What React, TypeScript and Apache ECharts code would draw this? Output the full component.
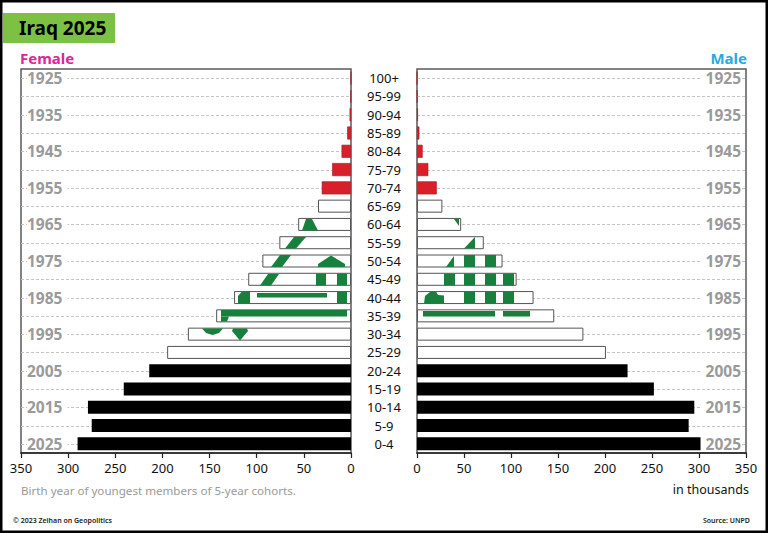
import React, { useEffect, useRef } from "react";
import * as echarts from "echarts";

const ages = ["0-4","5-9","10-14","15-19","20-24","25-29","30-34","35-39","40-44","45-49","50-54","55-59","60-64","65-69","70-74","75-79","80-84","85-89","90-94","95-99","100+"];
const femaleValues = [290,275,279,241,214,195,173,143,124,109,94,76,56,35,31,20,10,4,1.5,0.3,0.05];
const maleValues = [304,289,295,252,224,201,177,146,124,106,91,71,47,27,21,12,6,2.5,1,0.2,0.05];
const birthYearLabels = ["2025","","2015","","2005","","1995","","1985","","1975","","1965","","1955","","1945","","1935","","1925"];
const cohortGroup = ["k","k","k","k","k","w","w","w","w","w","w","w","w","w","r","r","r","r","r","r","r"];
const xTicks = [0, 50, 100, 150, 200, 250, 300, 350];

const FONT = "'Noto Sans', 'Open Sans', sans-serif";

const groupStyle: Record<string, any> = {
  k: { color: "#000000", borderColor: "#000000", borderWidth: 0 },
  w: { color: "#ffffff", borderColor: "#555555", borderWidth: 1 },
  r: { color: "#d7202a", borderColor: "#a51a20", borderWidth: 0.6 },
};

// Decorative flag-emblem fragments seen through the white bars (pure decoration, not data)
const FLAG_GREEN = "#17803d";
const flagPieces: number[][][] = [
  [[306,219],[312,219],[318,230.5],[302,230.5]],
  [[294,237],[306,237],[296,248.5],[285,248.5]],
  [[280,255],[291,255],[282,267],[271,267]],
  [[331,255.5],[345,264],[345,267],[318,267],[318,264]],
  [[268,274],[279,274],[271,285.5],[260,285.5]],
  [[316,273.5],[326,273.5],[326,285.5],[316,285.5]],
  [[337,273.5],[347,273.5],[347,285.5],[337,285.5]],
  [[242,291.5],[250,291.5],[250,303.5],[238,303.5],[238,296]],
  [[257,293],[327,293],[327,297.5],[257,297.5]],
  [[337,291.5],[347,291.5],[347,303.5],[337,303.5]],
  [[221,310],[347,310],[347,316.5],[221,316.5]],
  [[221,316.5],[229,316.5],[227,321.5],[221,321.5]],
  [[202,328.5],[223,328.5],[219,333],[212.5,335],[206,333]],
  [[233,328.5],[247,328.5],[248,331],[240,340.5],[232,331]],
  [[454,219],[459,219],[459,226]],
  [[475,237],[475,248.5],[464,248.5]],
  [[454,256],[454,267],[446,267]],
  [[464,255],[475,255],[475,267],[464,267]],
  [[485,255],[496,255],[496,267],[485,267]],
  [[444,273.5],[455,273.5],[455,285.5],[444,285.5]],
  [[464,273.5],[475,273.5],[475,285.5],[464,285.5]],
  [[485,273.5],[496,273.5],[496,285.5],[485,285.5]],
  [[503,273.5],[514,273.5],[514,285.5],[503,285.5]],
  [[424,303.5],[425,296],[430,292],[436,291.5],[438,295],[444,295.5],[444,303.5]],
  [[464,291.5],[475,291.5],[475,303.5],[464,303.5]],
  [[485,291.5],[496,291.5],[496,303.5],[485,303.5]],
  [[503,291.5],[514,291.5],[514,303.5],[503,303.5]],
  [[423,311],[495,311],[495,316.5],[423,316.5]],
  [[503,311],[530,311],[530,316.5],[503,316.5]],
];

function barData(values: number[]) {
  return values.map((v, i) => ({ value: v, itemStyle: groupStyle[cohortGroup[i]] }));
}

const noSplit = { splitLine: { show: false }, splitArea: { show: false }, minorSplitLine: { show: false } };

function gridLineSeries(xIdx: number, yIdx: number) {
  return {
    type: "custom",
    xAxisIndex: xIdx,
    yAxisIndex: yIdx,
    z: 1,
    silent: true,
    data: ages.map((a, i) => [0, i]),
    renderItem: (params: any, api: any) => {
      const cs = params.coordSys;
      const y = Math.round(api.coord([0, api.value(1)])[1]) + 0.5;
      return {
        type: "line",
        shape: { x1: cs.x, y1: y, x2: cs.x + cs.width, y2: y },
        style: { stroke: "#c4c4c4", lineWidth: 1, lineDash: [3, 2] },
      };
    },
  };
}

export default function App() {
  const ref = useRef<HTMLDivElement>(null);
  useEffect(() => {
    document.body.style.margin = "0";
    const chart = echarts.init(ref.current!, null, { renderer: "svg" });
    const xAxisBase = {
      type: "value",
      min: 0,
      max: 350,
      interval: 50,
      ...noSplit,
      axisLine: { show: true, lineStyle: { color: "#222", width: 1.5 } },
      axisTick: { show: true, length: 5, lineStyle: { color: "#222", width: 1.2 } },
      axisLabel: { fontSize: 13, color: "#111", margin: 8, fontFamily: FONT, formatter: (v: number) => (xTicks.includes(v) ? String(v) : "") },
    };
    const yearAxisLabel = {
      inside: true,
      fontSize: 15.5,
      fontWeight: "bold",
      color: "#9a9a9a",
      fontFamily: FONT,
      backgroundColor: "#ffffff",
      formatter: (_v: string, i: number) => birthYearLabels[i],
    };
    const flagGraphics = flagPieces.map((pts) => ({
      type: "polygon",
      z: 100,
      silent: true,
      shape: { points: pts },
      style: { fill: FLAG_GREEN },
    }));
    chart.setOption({
      animation: false,
      grid: [
        { left: 21, top: 69, width: 330, height: 384, show: true, borderColor: "#5a5a5a", borderWidth: 1.5 },
        { left: 417, top: 69, width: 329, height: 384, show: true, borderColor: "#5a5a5a", borderWidth: 1.5 },
      ],
      xAxis: [
        { ...xAxisBase, gridIndex: 0, inverse: true },
        { ...xAxisBase, gridIndex: 1 },
      ],
      yAxis: [
        {
          type: "category", gridIndex: 0, data: ages, position: "left", z: 10, ...noSplit,
          axisLine: { show: false }, axisTick: { show: false },
          axisLabel: { ...yearAxisLabel, margin: 6, padding: [0, 5, 0, 0] },
        },
        {
          type: "category", gridIndex: 0, data: ages, position: "right", ...noSplit,
          axisLine: { show: false }, axisTick: { show: false },
          axisLabel: { align: "center", margin: 33, fontSize: 13, color: "#111", fontFamily: FONT },
        },
        {
          type: "category", gridIndex: 1, data: ages, position: "right", z: 10, ...noSplit,
          axisLine: { show: false }, axisTick: { show: false },
          axisLabel: { ...yearAxisLabel, margin: 5, padding: [0, 0, 0, 5] },
        },
      ],
      series: [
        gridLineSeries(0, 0),
        gridLineSeries(1, 2),
        {
          type: "bar", name: "Female", xAxisIndex: 0, yAxisIndex: 0, z: 3,
          barWidth: 13, data: barData(femaleValues),
        },
        {
          type: "bar", name: "Male", xAxisIndex: 1, yAxisIndex: 2, z: 3,
          barWidth: 13, data: barData(maleValues),
        },
      ],
      graphic: {
        elements: [
          { type: "rect", shape: { x: 1.25, y: 1.25, width: 765.5, height: 530.5 }, style: { fill: "none", stroke: "#000", lineWidth: 2.5 }, silent: true },
          { type: "rect", shape: { x: 3, y: 13, width: 112, height: 30 }, style: { fill: "#7cc143" } },
          { type: "text", x: 19, y: 28, style: { text: "Iraq 2025", font: `bold 19px ${FONT}`, fill: "#000", verticalAlign: "middle" } },
          { type: "text", x: 20, y: 58, style: { text: "Female", font: `bold 15px ${FONT}`, fill: "#e0249a", verticalAlign: "middle" } },
          { type: "text", x: 747, y: 58, style: { text: "Male", font: `bold 15px ${FONT}`, fill: "#2aa9e0", align: "right", verticalAlign: "middle" } },
          { type: "text", x: 21, y: 490, style: { text: "Birth year of youngest members of 5-year cohorts.", font: `11.6px ${FONT}`, fill: "#9a9a9a", verticalAlign: "middle" } },
          { type: "text", x: 749, y: 489, style: { text: "in thousands", font: `12.5px ${FONT}`, fill: "#111", align: "right", verticalAlign: "middle" } },
          { type: "text", x: 13, y: 520, style: { text: "© 2023 Zeihan on Geopolitics", font: `600 7px ${FONT}`, fill: "#222", verticalAlign: "middle" } },
          { type: "text", x: 750, y: 520, style: { text: "Source: UNPD", font: `600 7px ${FONT}`, fill: "#222", align: "right", verticalAlign: "middle" } },
          ...flagGraphics,
        ],
      },
    });
    return () => chart.dispose();
  }, []);
  return <div ref={ref} style={{ width: 768, height: 533 }} />;
}
